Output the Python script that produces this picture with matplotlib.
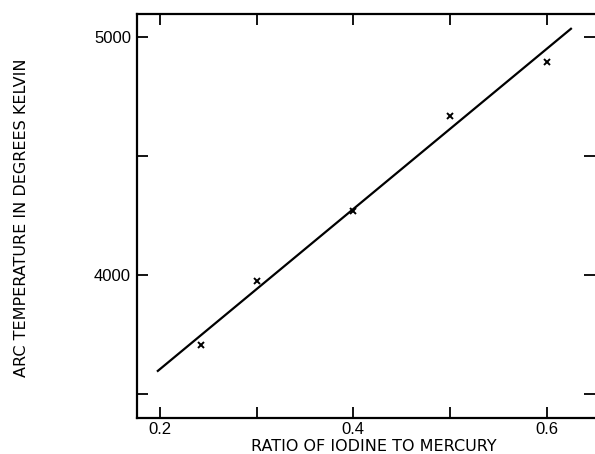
import matplotlib
matplotlib.use('Agg')
import matplotlib.pyplot as plt

plt.rcParams['font.family'] = ['Liberation Sans', 'DejaVu Sans']

# measured points (ratio I/Hg vs arc temperature)
ratio = [0.243, 0.30, 0.40, 0.50, 0.60]
temp = [3707, 3975, 4270, 4669, 4895]

# fitted straight line
fit_x = [0.197, 0.626]
fit_y = [3594, 5038]

xticks = [0.2, 0.3, 0.4, 0.5, 0.6]
xticklabels = ['0.2', '', '0.4', '', '0.6']
yticks = [3500, 4000, 4500, 5000]
yticklabels = ['', '4000', '', '5000']

fig = plt.figure(figsize=(5.95, 4.54), dpi=100)
ax = fig.add_axes([0.2297, 0.0793, 0.7703, 0.8898])

ax.plot(fit_x, fit_y, color='black', lw=1.6, solid_capstyle='butt')
ax.plot(ratio, temp, linestyle='none', marker='x', color='black', ms=4.5, mew=1.4)

ax.set_xlim(0.176, 0.65)
ax.set_ylim(3399, 5097)

ax.set_xticks(xticks)
ax.set_xticklabels(xticklabels)
ax.set_yticks(yticks)
ax.set_yticklabels(yticklabels)

ax.spines['right'].set_visible(False)
for s in ['left', 'top', 'bottom']:
    ax.spines[s].set_linewidth(1.6)

ax.tick_params(axis='both', which='both', direction='in', length=8, width=1.3,
               top=True, right=True, labelsize=12, colors='black')
ax.tick_params(axis='x', pad=3)
ax.tick_params(axis='y', pad=4)

ax.set_xlabel('RATIO OF IODINE TO MERCURY', fontsize=11.5, family='DejaVu Sans')
ax.xaxis.set_label_coords(0.517, -0.051)
ax.set_ylabel('ARC TEMPERATURE IN DEGREES KELVIN', fontsize=11.5, family='DejaVu Sans')
ax.yaxis.set_label_coords(-0.235, 0.495)

fig.savefig('out.png', dpi=100)
